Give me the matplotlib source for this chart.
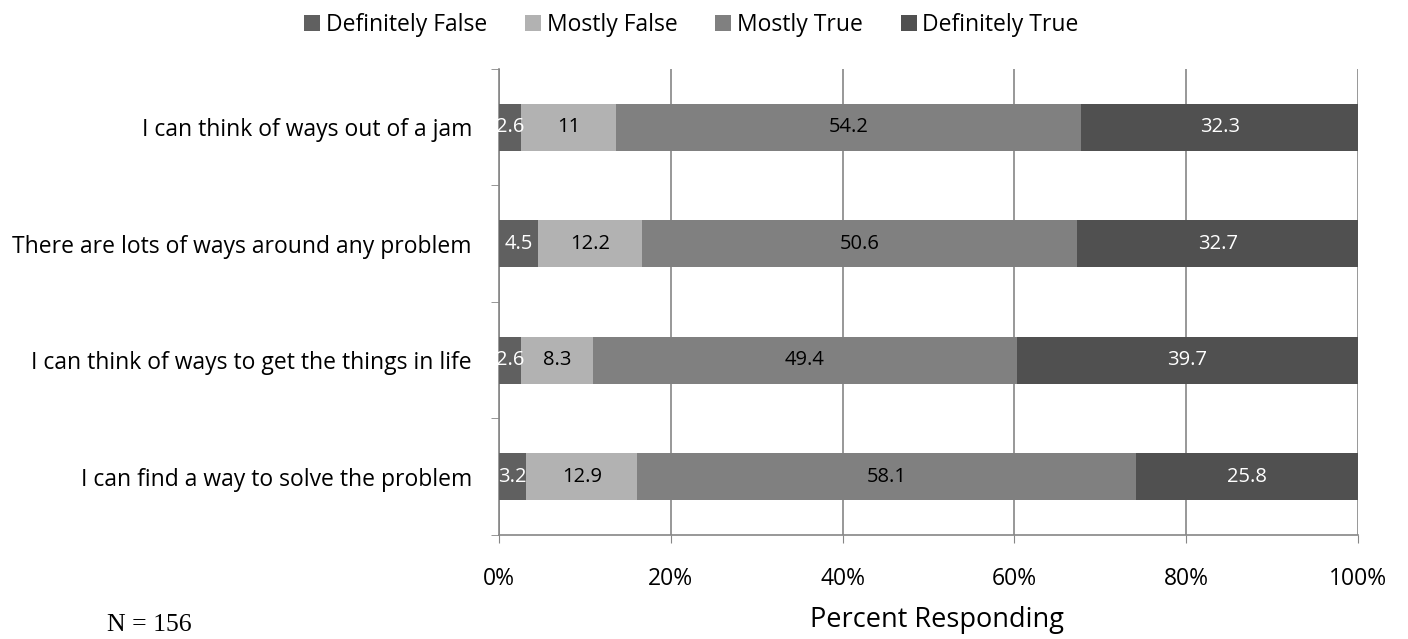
import matplotlib
matplotlib.use("Agg")
import matplotlib.pyplot as plt
import numpy as np

plt.rcParams['font.family'] = ['Open Sans', 'DejaVu Sans']

categories = [
    "I can think of ways out of a jam",
    "There are lots of ways around any problem",
    "I can think of ways to get the things in life",
    "I can find a way to solve the problem",
]
series_names = ["Definitely False", "Mostly False", "Mostly True", "Definitely True"]
definitely_false = [2.6, 4.5, 2.6, 3.2]
mostly_false = [11, 12.2, 8.3, 12.9]
mostly_true = [54.2, 50.6, 49.4, 58.1]
definitely_true = [32.3, 32.7, 39.7, 25.8]
x_ticks = [0, 20, 40, 60, 80, 100]
x_tick_labels = ["0%", "20%", "40%", "60%", "80%", "100%"]

series = [definitely_false, mostly_false, mostly_true, definitely_true]
colors = ["#606060", "#b2b2b2", "#808080", "#505050"]
label_colors = ["white", "black", "black", "white"]

fig = plt.figure(figsize=(14.08, 6.39), dpi=100)
ax = fig.add_axes([0.3544, 0.1628, 0.6101, 0.7293])

y = np.arange(len(categories))
left = np.zeros(len(categories))
for name, vals, col, lc in zip(series_names, series, colors, label_colors):
    vals = np.array(vals, dtype=float)
    ax.barh(y, vals, left=left, height=0.4, color=col, label=name, zorder=3)
    for yi, v, l in zip(y, vals, left):
        ax.text(l + v / 2, yi, f"{v:g}", ha="center", va="center",
                color=lc, fontsize=14.5, zorder=4)
    left += vals

ax.set_xlim(0, 100)
ax.set_ylim(len(categories) - 0.5, -0.5)
ax.set_xticks(x_ticks)
ax.set_xticklabels(x_tick_labels, fontsize=16.5)
ax.tick_params(axis="x", length=6, color="#868686", pad=17)
ax.grid(axis="x", color="#868686", linewidth=1.2, zorder=0)

ax.set_yticks(y)
ax.set_yticklabels(categories, fontsize=16.5)
ax.tick_params(axis="y", which="major", length=0, pad=19.5)
ax.set_yticks(np.arange(-0.5, len(categories)), minor=True)
ax.tick_params(axis="y", which="minor", length=6, color="#868686")

for side in ["top", "right"]:
    ax.spines[side].set_visible(False)
for side in ["left", "bottom"]:
    ax.spines[side].set_color("#868686")
    ax.spines[side].set_linewidth(1.2)

ax.set_xlabel("Percent Responding", fontsize=19.5)
ax.xaxis.set_label_coords(0.51, -0.152)
ax.xaxis.label.set_va("top")

fig.legend(loc="upper center", bbox_to_anchor=(0.491, 1.012), ncol=4, frameon=False,
           fontsize=16.5, handlelength=0.7, handleheight=0.7, handletextpad=0.25,
           columnspacing=1.65)

fig.text(0.076, 0.004, "N = 156", family="Liberation Serif", fontsize=18.5, va="bottom")

fig.savefig("out.png", dpi=100)
